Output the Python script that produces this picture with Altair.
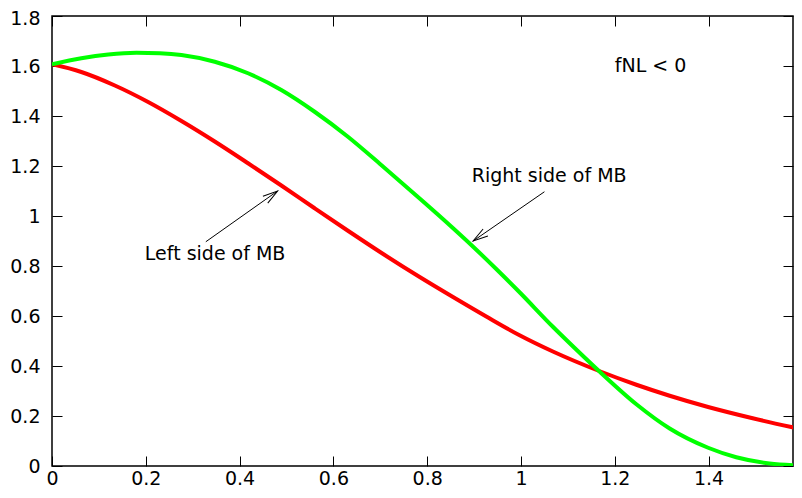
import math
import altair as alt
import pandas as pd

# ---- data ----
red_x = [0, 0.0625, 0.134, 0.205, 0.276, 0.347, 0.418, 0.489, 0.560, 0.631, 0.702,
         0.784, 0.855, 0.926, 0.997, 1.068, 1.168, 1.246, 1.317, 1.399, 1.494, 1.596]
red_y = [1.607, 1.576, 1.522, 1.456, 1.380, 1.298, 1.211, 1.122, 1.031, 0.941, 0.853,
         0.756, 0.676, 0.598, 0.523, 0.458, 0.379, 0.325, 0.281, 0.236, 0.191, 0.148]

green_x = [0, 0.0625, 0.12, 0.18, 0.23, 0.276, 0.347, 0.418, 0.489, 0.560, 0.631, 0.702,
           0.784, 0.850, 0.898, 0.950, 0.997, 1.068, 1.120, 1.168, 1.246, 1.317, 1.399,
           1.459, 1.530, 1.596]
green_y = [1.607, 1.631, 1.646, 1.653, 1.651, 1.644, 1.617, 1.571, 1.504, 1.417, 1.317, 1.204,
           1.070, 0.960, 0.877, 0.783, 0.695, 0.557, 0.462, 0.377, 0.247, 0.150, 0.073,
           0.035, 0.010, 0.002]

x_ticks = [0, 0.2, 0.4, 0.6, 0.8, 1, 1.2, 1.4]
y_ticks = [0, 0.2, 0.4, 0.6, 0.8, 1, 1.2, 1.4, 1.6, 1.8]

note_text = ["Left side of MB", "Right side of MB", "fNL < 0"]
note_x = [0.198, 0.895, 1.2]
note_y = [0.824, 1.137, 1.575]

arrow_x1 = [0.328, 1.050]
arrow_y1 = [0.897, 1.097]
arrow_x2 = [0.481, 0.898]
arrow_y2 = [1.100, 0.900]

X_MAX = 1.580
Y_MAX = 1.8
W, H = 741, 450
FONT = "DejaVu Sans"
FS = 19

red_df = pd.DataFrame({"x": red_x, "y": red_y})
green_df = pd.DataFrame({"x": green_x, "y": green_y})
note_df = pd.DataFrame({"x": note_x, "y": note_y, "t": note_text})

# arrow-head rotation in screen space
angles = []
for x1, y1, x2, y2 in zip(arrow_x1, arrow_y1, arrow_x2, arrow_y2):
    dx = (x2 - x1) * W / X_MAX
    dy = -(y2 - y1) * H / Y_MAX
    angles.append(math.degrees(math.atan2(dy, dx)) % 360)
arrow_df = pd.DataFrame({"x": arrow_x1, "y": arrow_y1, "x2": arrow_x2,
                         "y2": arrow_y2, "angle": angles})

xs = alt.Scale(domain=[0, X_MAX], nice=False, zero=False)
ys = alt.Scale(domain=[0, Y_MAX], nice=False, zero=False)

label_x_axis = alt.Axis(orient="bottom", values=x_ticks, format="~g", labelFont=FONT,
                        labelFontSize=FS, labelColor="black", labelPadding=18,
                        labelBaseline="alphabetic",
                        labelFlush=False, labelOverlap=False, ticks=False, tickSize=0,
                        domain=False, grid=False)
label_y_axis = alt.Axis(orient="left", values=y_ticks, format="~g", labelFont=FONT,
                        labelFontSize=FS, labelColor="black", labelPadding=12,
                        labelOffset={"condition": {"test": "datum.value > 1.79", "value": 2},
                                     "value": 0},
                        labelFlush=False, labelOverlap=False, ticks=False, tickSize=0,
                        domain=False, grid=False)


def tick_axis(orient, offset, vals):
    return alt.Axis(orient=orient, offset=offset, values=vals, labels=False, ticks=True,
                    tickSize=10, tickColor="black", tickWidth=1, domain=False,
                    grid=False)


red = alt.Chart(red_df).mark_line(color="#ff0000", strokeWidth=4, interpolate="monotone",
                                  clip=True).encode(
    x=alt.X("x:Q", scale=xs, axis=label_x_axis, title=None),
    y=alt.Y("y:Q", scale=ys, axis=label_y_axis, title=None),
)
green = alt.Chart(green_df).mark_line(color="#00ff00", strokeWidth=4, interpolate="monotone",
                                      clip=True).encode(
    x=alt.X("x:Q", scale=xs, axis=None),
    y=alt.Y("y:Q", scale=ys, axis=None),
)
ticks_a = alt.Chart(red_df).mark_point(opacity=0, clip=True).encode(
    x=alt.X("x:Q", scale=xs, axis=tick_axis("top", -H, x_ticks), title=None),
    y=alt.Y("y:Q", scale=ys, axis=tick_axis("right", -W, y_ticks), title=None),
)
ticks_b = alt.Chart(red_df).mark_point(opacity=0, clip=True).encode(
    x=alt.X("x:Q", scale=xs, axis=tick_axis("bottom", -H, x_ticks), title=None),
    y=alt.Y("y:Q", scale=ys, axis=tick_axis("left", -W, y_ticks), title=None),
)
rules = alt.Chart(arrow_df).mark_rule(color="black", strokeWidth=1).encode(
    x=alt.X("x:Q", scale=xs, axis=None),
    y=alt.Y("y:Q", scale=ys, axis=None),
    x2="x2:Q",
    y2="y2:Q",
)
heads = alt.Chart(arrow_df).mark_point(
    shape="M -1 -0.28 L 0 0 L -1 0.28", filled=False, stroke="black", strokeWidth=1,
    size=900, opacity=1,
).encode(
    x=alt.X("x2:Q", scale=xs, axis=None),
    y=alt.Y("y2:Q", scale=ys, axis=None),
    angle=alt.Angle("angle:Q", scale=None),
)
notes = alt.Chart(note_df).mark_text(align="left", baseline="alphabetic", font=FONT,
                                     fontSize=FS, color="black").encode(
    x=alt.X("x:Q", scale=xs, axis=None),
    y=alt.Y("y:Q", scale=ys, axis=None),
    text="t:N",
)

chart = alt.layer(red, green, ticks_a, ticks_b, rules, heads, notes).resolve_axis(
    x="independent", y="independent"
).properties(
    width=W, height=H,
    autosize=alt.AutoSizeParams(type="none"),
    padding={"left": 44, "top": 8, "right": 1, "bottom": 24},
).configure_view(stroke="black", strokeWidth=1.5)

chart.save("out.html", embed_options={"renderer": "svg", "actions": False})
